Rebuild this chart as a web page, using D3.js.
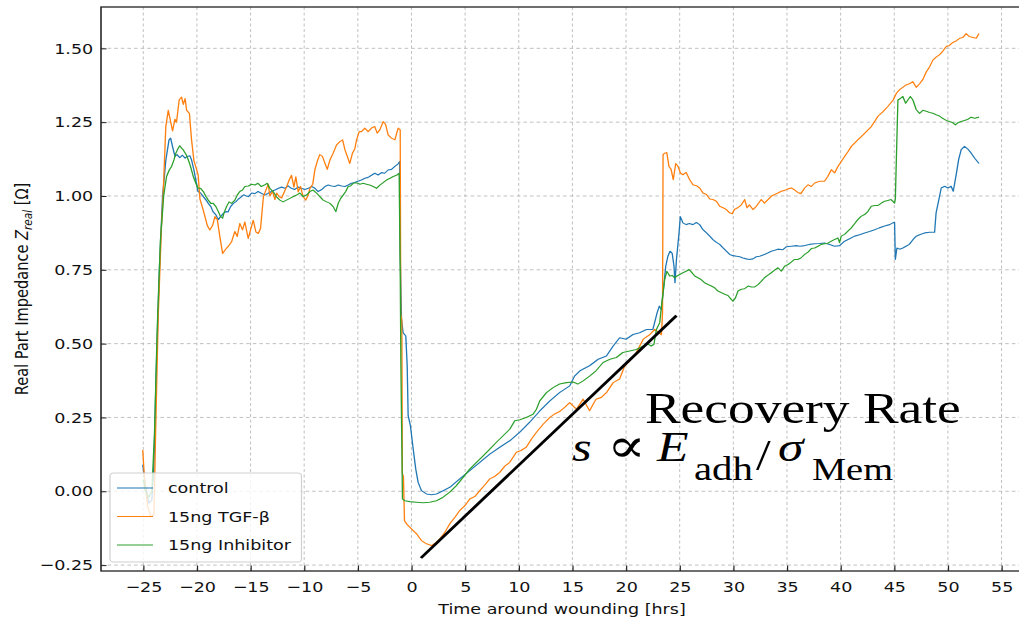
<!DOCTYPE html>
<html>
<head>
<meta charset="utf-8">
<script src="https://cdn.jsdelivr.net/npm/d3@7"></script>
<style>
  html, body { margin: 0; padding: 0; background: #fff; }
  svg { display: block; }
  text { font-family: "DejaVu Sans", sans-serif; fill: #111; }
</style>
</head>
<body>
<div id="chart"></div>
<script>
// the source picture is a matplotlib figure stretched sideways, so draw in
// narrower units and let the viewBox stretch everything by SX
var SX = 1.2;
var W = 1019, H = 620;
var VW = W / SX;

// axis extents, in data units
var xDomain = [-28.94, 57.0];
var yDomain = [-0.27, 1.64];

var xTicks = [-25, -20, -15, -10, -5, 0, 5, 10, 15, 20, 25, 30, 35, 40, 45, 50, 55];
var yTicks = [-0.25, 0, 0.25, 0.5, 0.75, 1.0, 1.25, 1.5];

var seriesNames = ["control", "15ng TGF-\u03b2", "15ng Inhibitor"];
var seriesColors = ["#1f77b4", "#ff7f0e", "#2ca02c"];

// [hours, ohm]
var controlData = [
  [-25.05, 0.09], [-24.8, 0.02], [-24.5, -0.04], [-24.2, -0.03], [-24.0, 0.1], [-23.8, 0.4],
  [-23.5, 0.75], [-23.2, 1.0], [-22.9, 1.12], [-22.6, 1.19], [-22.45, 1.196], [-22.27, 1.167],
  [-22.05, 1.134], [-21.85, 1.14], [-21.6, 1.13], [-21.35, 1.138], [-21.1, 1.128], [-20.9, 1.134],
  [-20.65, 1.136], [-20.5, 1.122], [-20.28, 1.088], [-20.1, 1.054], [-19.9, 1.015], [-19.66, 1.01],
  [-19.4, 0.998], [-19.16, 0.987], [-18.94, 0.975], [-18.7, 0.964], [-18.5, 0.947], [-18.23, 0.936],
  [-18.0, 0.92], [-17.8, 0.93], [-17.55, 0.94], [-17.3, 0.947], [-17.1, 0.946], [-16.86, 0.964],
  [-16.6, 0.975], [-16.36, 0.981], [-16.15, 0.989], [-15.9, 0.996], [-15.65, 1.004], [-15.4, 1.0],
  [-15.2, 0.998], [-14.9, 1.01], [-14.6, 1.008], [-14.3, 1.015], [-14.0, 1.009], [-13.67, 1.003],
  [-13.35, 1.009], [-13.04, 1.015], [-12.73, 1.02], [-12.4, 1.026], [-12.1, 1.03], [-11.8, 1.026],
  [-11.5, 1.034], [-11.2, 1.026], [-10.9, 1.022], [-10.56, 1.03], [-10.25, 1.026], [-9.94, 1.022],
  [-9.6, 1.026], [-9.3, 1.032], [-9.0, 1.026], [-8.7, 1.015], [-8.4, 1.021], [-8.07, 1.032],
  [-7.76, 1.037], [-7.45, 1.034], [-7.14, 1.032], [-6.83, 1.037], [-6.52, 1.034], [-6.2, 1.032],
  [-5.9, 1.037], [-5.6, 1.043], [-5.3, 1.046], [-5.0, 1.05], [-4.66, 1.054], [-4.35, 1.06],
  [-4.04, 1.063], [-3.73, 1.07], [-3.42, 1.077], [-3.1, 1.071], [-2.8, 1.079], [-2.5, 1.077],
  [-2.18, 1.088], [-1.86, 1.09], [-1.55, 1.1], [-1.24, 1.109], [-1.1, 1.117], [-1.05, 0.8],
  [-0.93, 0.582], [-0.78, 0.537], [-0.53, 0.526], [-0.4, 0.425], [-0.31, 0.256], [-0.1, 0.222],
  [0.16, 0.143], [0.4, 0.075], [0.62, 0.03], [0.93, 0.002], [1.4, -0.009], [1.86, -0.012],
  [2.33, -0.009], [2.95, 0.002], [3.57, 0.0135], [4.5, 0.042], [5.43, 0.07], [6.37, 0.098],
  [7.3, 0.126], [8.23, 0.149], [9.16, 0.171], [10.1, 0.2], [11.0, 0.233], [11.96, 0.272],
  [12.9, 0.306], [13.8, 0.334], [14.75, 0.357], [15.2, 0.39], [15.7, 0.408], [16.6, 0.425],
  [17.4, 0.447], [18.17, 0.458], [18.8, 0.492], [19.4, 0.52], [20.0, 0.515], [20.65, 0.531],
  [21.27, 0.537], [21.9, 0.548], [22.5, 0.548], [22.9, 0.605], [23.1, 0.627], [23.3, 0.615],
  [23.45, 0.672], [23.7, 0.762], [23.9, 0.796], [24.1, 0.813], [24.3, 0.806], [24.47, 0.762],
  [24.56, 0.706], [24.7, 0.785], [24.94, 0.875], [25.06, 0.93], [25.3, 0.909], [25.6, 0.903],
  [25.9, 0.907], [26.24, 0.903], [26.55, 0.91], [26.86, 0.903], [27.17, 0.886], [27.5, 0.875],
  [27.8, 0.864], [28.1, 0.852], [28.42, 0.843], [28.73, 0.836], [29.04, 0.824], [29.35, 0.813],
  [29.66, 0.802], [29.97, 0.798], [30.3, 0.796], [30.6, 0.794], [30.9, 0.79], [31.2, 0.787],
  [31.5, 0.785], [31.83, 0.787], [32.14, 0.794], [32.45, 0.796], [32.9, 0.802], [33.2, 0.807],
  [33.54, 0.813], [33.85, 0.816], [34.16, 0.82], [34.62, 0.818], [34.94, 0.828], [35.4, 0.83],
  [35.87, 0.832], [36.2, 0.83], [36.65, 0.832], [37.1, 0.836], [37.58, 0.838], [38.04, 0.839],
  [38.5, 0.841], [38.97, 0.836], [39.44, 0.83], [39.9, 0.832], [40.37, 0.847], [40.84, 0.855],
  [41.3, 0.864], [41.77, 0.869], [42.24, 0.875], [42.7, 0.88], [43.17, 0.886], [43.6, 0.892],
  [44.1, 0.898], [44.57, 0.903], [44.88, 0.909], [45.03, 0.911], [45.1, 0.785], [45.25, 0.824],
  [45.5, 0.82], [45.8, 0.824], [46.1, 0.83], [46.4, 0.836], [46.74, 0.852], [47.05, 0.864],
  [47.36, 0.869], [47.83, 0.875], [48.3, 0.877], [48.76, 0.877], [48.9, 0.943], [49.16, 0.988],
  [49.38, 1.027], [49.7, 1.033], [50.0, 1.027], [50.3, 1.033], [50.5, 1.016], [50.8, 1.078],
  [51.0, 1.123], [51.24, 1.157], [51.55, 1.168], [51.86, 1.159], [52.17, 1.145], [52.5, 1.128],
  [52.9, 1.11]
];

var tgfData = [
  [-25.05, 0.14], [-24.9, 0.05], [-24.6, -0.05], [-24.3, -0.085], [-24.0, -0.08], [-23.85, 0.2],
  [-23.6, 0.6], [-23.3, 0.9], [-23.14, 1.01], [-22.9, 1.235], [-22.67, 1.29], [-22.5, 1.26],
  [-22.27, 1.22], [-22.05, 1.26], [-21.9, 1.25], [-21.65, 1.326], [-21.43, 1.335], [-21.27, 1.31],
  [-21.1, 1.33], [-20.96, 1.29], [-20.7, 1.28], [-20.5, 1.19], [-20.28, 1.12], [-20.03, 1.09],
  [-19.88, 1.07], [-19.72, 0.99], [-19.47, 0.96], [-19.25, 0.93], [-19.03, 0.9], [-18.8, 0.885],
  [-18.54, 0.9], [-18.32, 0.93], [-18.1, 0.92], [-17.85, 0.86], [-17.6, 0.805], [-17.38, 0.817],
  [-17.07, 0.83], [-16.77, 0.845], [-16.46, 0.88], [-16.24, 0.863], [-16.0, 0.907], [-15.75, 0.885],
  [-15.53, 0.912], [-15.22, 0.856], [-15.0, 0.885], [-14.75, 0.918], [-14.5, 0.878], [-14.28, 0.873],
  [-14.07, 0.89], [-13.8, 0.998], [-13.57, 1.02], [-13.35, 1.04], [-13.2, 1.0], [-12.95, 1.016],
  [-12.73, 0.988], [-12.57, 1.01], [-12.35, 0.998], [-12.1, 0.993], [-11.9, 1.01], [-11.65, 1.03],
  [-11.4, 1.054], [-11.18, 1.07], [-10.96, 1.03], [-10.78, 1.065], [-10.56, 1.014], [-10.34, 1.032],
  [-10.1, 0.998], [-9.85, 0.986], [-9.63, 1.003], [-9.47, 1.026], [-9.2, 1.04], [-9.0, 1.09],
  [-8.76, 1.12], [-8.55, 1.14], [-8.3, 1.134], [-8.07, 1.111], [-7.85, 1.09], [-7.6, 1.122],
  [-7.3, 1.145], [-6.98, 1.173], [-6.67, 1.184], [-6.42, 1.19], [-6.2, 1.156], [-5.98, 1.134],
  [-5.75, 1.11], [-5.5, 1.145], [-5.28, 1.16], [-5.12, 1.19], [-4.87, 1.218], [-4.66, 1.218],
  [-4.35, 1.23], [-4.04, 1.218], [-3.73, 1.23], [-3.42, 1.235], [-3.2, 1.213], [-2.95, 1.224],
  [-2.64, 1.252], [-2.4, 1.241], [-2.18, 1.207], [-1.86, 1.196], [-1.55, 1.19], [-1.24, 1.23],
  [-1.05, 1.224], [-1.0, 0.60], [-0.9, 0.58], [-0.85, 0.06], [-0.75, 0.05], [-0.65, -0.10],
  [-0.4, -0.113], [0.0, -0.127], [0.47, -0.144], [0.93, -0.167], [1.4, -0.178], [1.86, -0.184],
  [2.2, -0.176], [2.64, -0.161], [3.1, -0.14], [3.57, -0.11], [4.05, -0.088], [4.5, -0.065],
  [5.0, -0.048], [5.43, -0.026], [5.9, -0.018], [6.37, 0.002], [6.85, 0.022], [7.3, 0.042],
  [7.75, 0.05], [8.23, 0.064], [8.7, 0.085], [9.16, 0.098], [9.78, 0.132], [10.2, 0.138],
  [10.7, 0.149], [11.2, 0.178], [11.65, 0.2], [12.27, 0.227], [12.9, 0.25], [13.35, 0.262],
  [13.8, 0.27], [14.3, 0.285], [14.75, 0.3], [15.37, 0.278], [16.0, 0.312], [16.6, 0.273],
  [17.2, 0.312], [17.7, 0.318], [18.17, 0.334], [18.8, 0.368], [19.4, 0.38], [19.88, 0.425],
  [20.3, 0.44], [20.96, 0.47], [21.6, 0.515], [22.2, 0.53], [22.67, 0.548], [23.07, 0.537],
  [23.3, 0.53], [23.4, 0.605], [23.45, 1.14], [23.6, 1.145], [23.8, 1.147], [24.0, 1.1],
  [24.2, 1.09], [24.4, 1.055], [24.63, 1.11], [24.85, 1.1], [25.06, 1.078], [25.3, 1.072],
  [25.6, 1.08], [25.93, 1.055], [26.24, 1.038], [26.55, 1.035], [26.86, 1.027], [27.17, 1.01],
  [27.5, 1.005], [27.8, 0.99], [28.1, 0.988], [28.42, 0.982], [28.73, 0.965], [29.04, 0.96],
  [29.35, 0.954], [29.66, 0.943], [29.9, 0.94], [30.1, 0.954], [30.4, 0.96], [30.75, 0.97],
  [31.06, 0.988], [31.28, 0.96], [31.5, 0.97], [31.83, 0.954], [32.14, 0.965], [32.4, 0.978],
  [32.6, 0.988], [32.9, 0.976], [33.23, 0.988], [33.54, 0.999], [33.85, 1.005], [34.16, 1.01],
  [34.47, 1.016], [34.78, 1.019], [35.1, 1.024], [35.4, 1.027], [35.7, 1.021], [36.0, 1.012],
  [36.3, 1.008], [36.65, 1.027], [36.96, 1.038], [37.27, 1.032], [37.58, 1.044], [38.04, 1.05],
  [38.5, 1.05], [38.8, 1.066], [39.13, 1.089], [39.44, 1.078], [39.75, 1.1], [40.06, 1.117],
  [40.37, 1.134], [40.68, 1.15], [41.0, 1.168], [41.3, 1.179], [41.6, 1.19], [41.9, 1.2],
  [42.4, 1.218], [42.86, 1.235], [43.17, 1.252], [43.48, 1.27], [43.95, 1.286], [44.4, 1.303],
  [44.9, 1.325], [45.2, 1.348], [45.5, 1.36], [45.8, 1.368], [46.1, 1.376], [46.4, 1.38],
  [46.74, 1.387], [47.05, 1.368], [47.36, 1.38], [47.67, 1.395], [47.98, 1.42], [48.3, 1.438],
  [48.6, 1.46], [48.9, 1.47], [49.2, 1.478], [49.5, 1.489], [49.84, 1.506], [50.15, 1.51],
  [50.46, 1.52], [50.8, 1.526], [51.1, 1.534], [51.4, 1.537], [51.7, 1.55], [52.0, 1.54],
  [52.33, 1.537], [52.64, 1.534], [52.9, 1.55]
];

var inhibitorData = [
  [-25.0, 0.04], [-24.8, 0.0], [-24.5, -0.02], [-24.2, 0.0], [-23.95, 0.2], [-23.7, 0.55],
  [-23.4, 0.85], [-23.1, 1.0], [-22.83, 1.066], [-22.58, 1.088], [-22.36, 1.1], [-22.14, 1.122],
  [-21.96, 1.145], [-21.74, 1.162], [-21.6, 1.17], [-21.43, 1.162], [-21.27, 1.156], [-21.0, 1.14],
  [-20.8, 1.122], [-20.6, 1.1], [-20.34, 1.066], [-20.1, 1.043], [-19.9, 1.026], [-19.66, 1.026],
  [-19.4, 1.015], [-19.16, 0.998], [-18.94, 0.986], [-18.7, 0.975], [-18.48, 0.975], [-18.23, 0.964],
  [-18.0, 0.947], [-17.8, 0.93], [-17.6, 0.925], [-17.5, 0.94], [-17.24, 0.964], [-17.0, 0.98],
  [-16.77, 0.975], [-16.46, 0.986], [-16.24, 1.003], [-16.0, 1.015], [-15.75, 1.02], [-15.53, 1.032],
  [-15.2, 1.034], [-14.9, 1.04], [-14.6, 1.037], [-14.3, 1.043], [-14.0, 1.032], [-13.7, 1.037],
  [-13.45, 1.043], [-13.2, 1.026], [-12.9, 1.015], [-12.6, 0.998], [-12.27, 0.986], [-11.96, 0.98],
  [-11.65, 0.986], [-11.33, 0.992], [-11.0, 0.998], [-10.7, 1.003], [-10.4, 1.01], [-10.1, 0.998],
  [-9.78, 1.003], [-9.47, 1.015], [-9.16, 1.02], [-8.85, 1.01], [-8.54, 0.998], [-8.23, 0.986],
  [-7.9, 0.98], [-7.6, 0.975], [-7.3, 0.964], [-7.05, 0.947], [-6.83, 0.975], [-6.6, 0.992],
  [-6.37, 1.003], [-6.13, 1.015], [-5.9, 1.032], [-5.68, 1.034], [-5.43, 1.043], [-5.12, 1.045],
  [-4.8, 1.04], [-4.5, 1.043], [-4.2, 1.04], [-3.9, 1.037], [-3.57, 1.032], [-3.26, 1.026],
  [-2.95, 1.037], [-2.64, 1.045], [-2.33, 1.054], [-2.0, 1.06], [-1.7, 1.066], [-1.4, 1.07],
  [-1.15, 1.077], [-1.05, 0.75], [-0.99, 0.436], [-0.84, -0.026], [-0.62, -0.032], [-0.16, -0.035],
  [0.47, -0.037], [1.09, -0.039], [1.7, -0.037], [2.33, -0.032], [2.95, -0.02], [3.57, -0.003],
  [4.19, 0.019], [4.81, 0.047], [5.43, 0.075], [6.06, 0.098], [6.68, 0.12], [7.3, 0.143],
  [7.92, 0.166], [8.54, 0.188], [9.16, 0.21], [9.63, 0.239], [10.1, 0.242], [10.7, 0.25],
  [11.33, 0.261], [11.65, 0.278], [11.96, 0.306], [12.58, 0.334], [13.2, 0.351], [13.8, 0.363],
  [14.44, 0.368], [15.06, 0.37], [15.5, 0.363], [16.0, 0.374], [16.6, 0.39], [17.2, 0.408],
  [17.86, 0.436], [18.5, 0.447], [19.1, 0.453], [19.7, 0.47], [20.34, 0.475], [20.96, 0.48],
  [21.6, 0.492], [22.05, 0.498], [22.36, 0.492], [22.6, 0.498], [22.83, 0.548], [23.14, 0.571],
  [23.3, 0.627], [23.45, 0.672], [23.6, 0.717], [23.8, 0.745], [24.07, 0.729], [24.3, 0.731],
  [24.53, 0.723], [24.75, 0.729], [25.0, 0.734], [25.3, 0.74], [25.6, 0.745], [25.87, 0.751],
  [26.1, 0.742], [26.4, 0.729], [26.7, 0.723], [27.0, 0.717], [27.33, 0.706], [27.64, 0.70],
  [27.95, 0.695], [28.26, 0.689], [28.57, 0.678], [28.9, 0.672], [29.2, 0.667], [29.5, 0.663],
  [29.8, 0.65], [29.97, 0.644], [30.2, 0.655], [30.43, 0.678], [30.75, 0.684], [31.06, 0.686],
  [31.37, 0.695], [31.68, 0.692], [32.0, 0.692], [32.3, 0.70], [32.6, 0.711], [32.9, 0.723],
  [33.2, 0.731], [33.54, 0.74], [33.85, 0.749], [34.16, 0.757], [34.47, 0.745], [34.78, 0.762],
  [35.1, 0.768], [35.4, 0.776], [35.7, 0.785], [36.0, 0.785], [36.3, 0.79], [36.65, 0.802],
  [36.96, 0.81], [37.27, 0.822], [37.58, 0.824], [37.9, 0.83], [38.2, 0.836], [38.5, 0.838],
  [38.8, 0.84], [39.13, 0.847], [39.44, 0.853], [39.75, 0.858], [39.9, 0.842], [40.06, 0.864],
  [40.37, 0.87], [40.68, 0.881], [41.0, 0.892], [41.3, 0.906], [41.6, 0.92], [41.9, 0.931],
  [42.24, 0.937], [42.55, 0.948], [42.86, 0.965], [43.17, 0.968], [43.5, 0.968], [43.8, 0.976],
  [44.1, 0.982], [44.4, 0.985], [44.7, 0.988], [45.03, 0.976], [45.1, 0.99], [45.34, 1.325],
  [45.56, 1.33], [45.8, 1.337], [46.06, 1.314], [46.27, 1.325], [46.5, 1.337], [46.74, 1.325],
  [47.05, 1.292], [47.36, 1.28], [47.67, 1.29], [47.98, 1.287], [48.3, 1.283], [48.6, 1.28],
  [48.9, 1.275], [49.2, 1.271], [49.5, 1.263], [49.84, 1.256], [50.15, 1.252], [50.46, 1.248],
  [50.7, 1.241], [50.93, 1.248], [51.24, 1.252], [51.55, 1.256], [51.86, 1.26], [52.17, 1.267],
  [52.5, 1.263], [52.9, 1.267]
];

// fitted slope drawn over the recovery part
var rateLine = [[0.88, -0.226], [24.7, 0.595]];

var x = d3.scaleLinear().domain(xDomain).range([101 / SX, 1023 / SX]);
var y = d3.scaleLinear().domain(yDomain).range([571, 7]);

var svg = d3.select("#chart").append("svg")
    .attr("width", W)
    .attr("height", H)
    .attr("viewBox", "0 0 " + VW + " " + H)
    .attr("preserveAspectRatio", "none");

var plotL = x.range()[0], plotR = x.range()[1], plotT = y.range()[1], plotB = y.range()[0];

// grid
svg.append("g").selectAll("line").data(xTicks).enter().append("line")
    .attr("x1", function(d) { return x(d); }).attr("x2", function(d) { return x(d); })
    .attr("y1", plotT).attr("y2", plotB)
    .style("stroke", "#b8b8b8").style("stroke-width", 0.8).style("stroke-dasharray", "3,2.5");
svg.append("g").selectAll("line").data(yTicks).enter().append("line")
    .attr("x1", plotL).attr("x2", plotR)
    .attr("y1", function(d) { return y(d); }).attr("y2", function(d) { return y(d); })
    .style("stroke", "#b8b8b8").style("stroke-width", 0.8).style("stroke-dasharray", "3,2.5");

// series
var line = d3.line().x(function(d) { return x(d[0]); }).y(function(d) { return y(d[1]); });
[controlData, tgfData, inhibitorData].forEach(function(data, i) {
  svg.append("path")
      .datum(data)
      .attr("d", line)
      .style("fill", "none")
      .style("stroke", seriesColors[i])
      .style("stroke-width", 1.1)
      .style("stroke-linejoin", "round");
});

// axes, ticks pointing inward
var fmt = d3.format(".2f");
var xAxis = svg.append("g")
    .attr("transform", "translate(0," + plotB + ")")
    .call(d3.axisBottom(x).tickValues(xTicks).tickSizeInner(-5.5).tickSizeOuter(0).tickPadding(11)
      .tickFormat(function(d) { return d < 0 ? "\u2212" + Math.abs(d) : d; }));
var yAxis = svg.append("g")
    .attr("transform", "translate(" + plotL + ",0)")
    .call(d3.axisLeft(y).tickValues(yTicks).tickSizeInner(-4.6).tickSizeOuter(0).tickPadding(6.5)
      .tickFormat(function(d) { return d < 0 ? "\u2212" + fmt(Math.abs(d)) : fmt(d); }));
[xAxis, yAxis].forEach(function(g) {
  g.select(".domain").remove();
  g.selectAll(".tick line").style("stroke", "#222").style("stroke-width", 1);
  g.selectAll(".tick text").style("font-family", "'DejaVu Sans', sans-serif")
      .style("font-size", "14.6px").style("fill", "#111");
});

// frame
svg.append("rect")
    .attr("x", plotL).attr("y", plotT)
    .attr("width", plotR - plotL).attr("height", plotB - plotT)
    .style("fill", "none").style("stroke", "#222").style("stroke-width", 1.3);

// legend
var leg = svg.append("g");
leg.append("rect")
    .attr("x", 110 / SX).attr("y", 473)
    .attr("width", (301.5 - 110) / SX).attr("height", 89)
    .attr("rx", 3).attr("ry", 3)
    .style("fill", "#fff").style("fill-opacity", 0.8)
    .style("stroke", "#d0d0d0").style("stroke-width", 1);
seriesNames.forEach(function(name, i) {
  var yy = 488 + i * 28.5;
  leg.append("line")
      .attr("x1", 117 / SX).attr("x2", 153 / SX)
      .attr("y1", yy).attr("y2", yy)
      .style("stroke", seriesColors[i]).style("stroke-width", 1.1);
  leg.append("text")
      .attr("x", 168 / SX).attr("y", yy + 5.3)
      .style("font-size", "14.6px")
      .text(name);
});

// axis labels
svg.append("text")
    .attr("x", (plotL + plotR) / 2).attr("y", 614)
    .style("text-anchor", "middle").style("font-size", "14.6px")
    .text("Time around wounding [hrs]");

var yl = svg.append("text")
    .attr("transform", "translate(" + (28 / SX) + "," + ((plotT + plotB) / 2) + ") rotate(-90)")
    .style("text-anchor", "middle").style("font-size", "14.6px");
yl.append("tspan").text("Real Part Impedance ");
yl.append("tspan").style("font-style", "italic").text("Z");
yl.append("tspan").style("font-style", "italic").style("font-size", "10.5px").attr("dy", 3).text("real");
yl.append("tspan").attr("dy", -3).text(" [\u03a9]");

// recovery-rate annotation
svg.append("line")
    .attr("x1", x(rateLine[0][0])).attr("y1", y(rateLine[0][1]))
    .attr("x2", x(rateLine[1][0])).attr("y2", y(rateLine[1][1]))
    .style("stroke", "#000").style("stroke-width", 2.6);

svg.append("text")
    .attr("x", 645 / SX).attr("y", 423)
    .style("font-family", "'Liberation Serif', serif")
    .style("font-size", "44.5px").style("fill", "#000")
    .text("Recovery Rate");

var formula = [
  { t: "s", x: 572, y: 461, size: 42, italic: true, font: "Liberation Serif" },
  { t: "\u221d", x: 607, y: 462, size: 48, italic: false, font: "DejaVu Serif" },
  { t: "E", x: 657, y: 461, size: 43, italic: true, font: "Liberation Serif" },
  { t: "adh", x: 694, y: 480, size: 34, italic: false, font: "Liberation Serif" },
  { t: "/", x: 756, y: 470, size: 44, italic: false, font: "Liberation Serif" },
  { t: "\u03c3", x: 778, y: 461, size: 43, italic: true, font: "Liberation Serif" },
  { t: "Mem", x: 812, y: 480, size: 32, italic: false, font: "Liberation Serif" }
];
formula.forEach(function(f) {
  svg.append("text")
      .attr("x", f.x / SX).attr("y", f.y)
      .style("font-family", "'" + f.font + "', serif")
      .style("font-size", f.size + "px")
      .style("font-style", f.italic ? "italic" : "normal")
      .style("fill", "#000")
      .text(f.t);
});
</script>
</body>
</html>
